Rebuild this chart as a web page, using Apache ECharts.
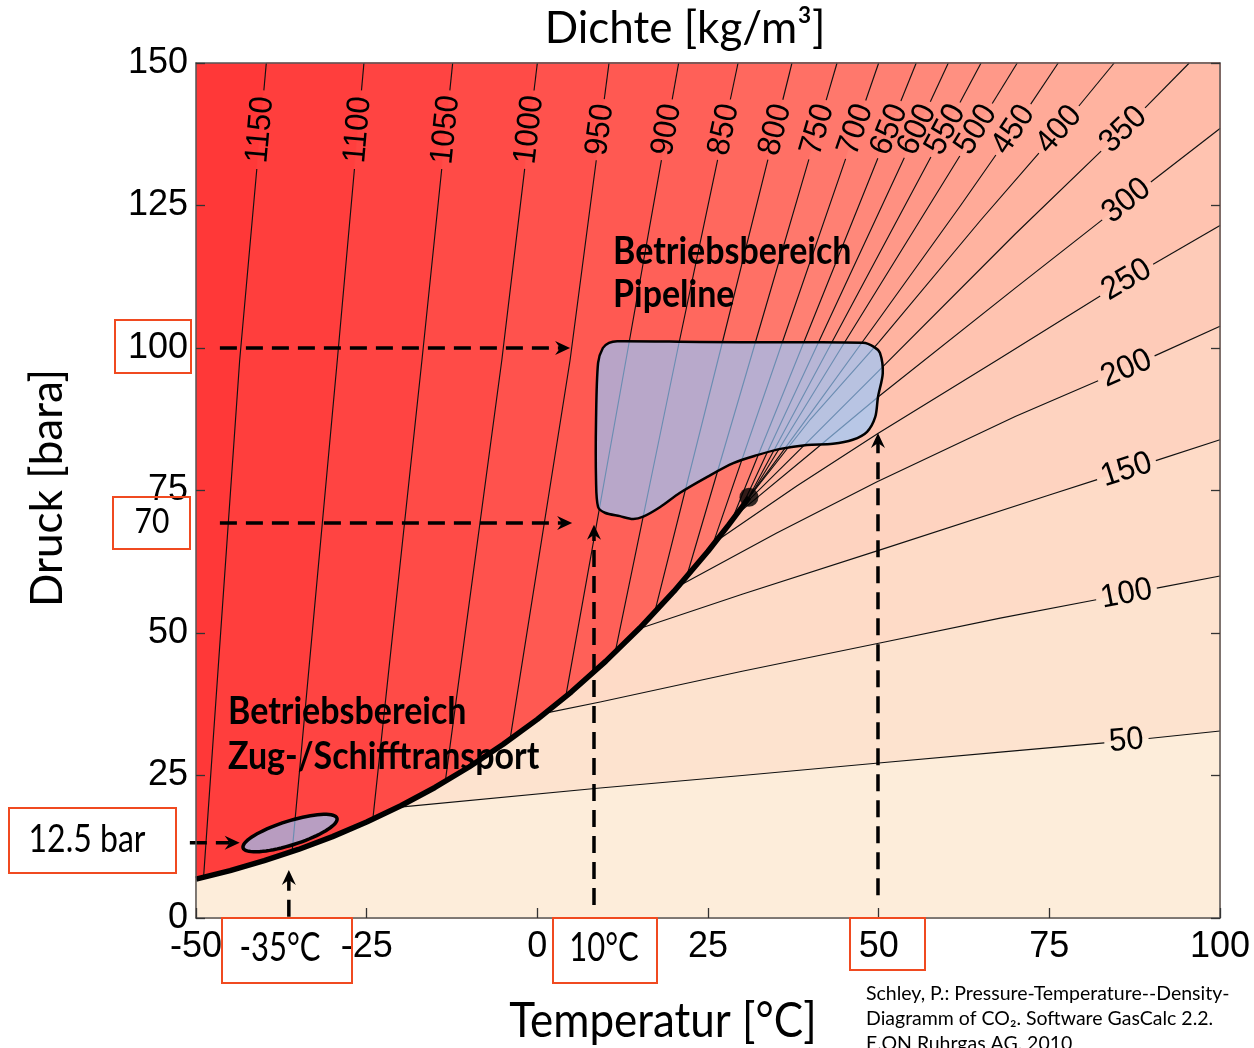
<!DOCTYPE html>
<html>
<head>
<meta charset="utf-8">
<script src="https://cdn.jsdelivr.net/npm/echarts/dist/echarts.min.js"></script>
<style>html,body{margin:0;padding:0;background:#fff}#chart{width:1254px;height:1048px}</style>
</head>
<body>
<div id="chart"></div>
<script>
// ---------------- DATA ----------------
const tempTicks = [-50, -25, 0, 25, 50, 75, 100];
const pressTicks = [0, 25, 50, 75, 100, 125, 150];

// vapour-pressure (saturation) curve of CO2, T [°C] / p [bar]
const satT = [-50, -45, -40, -35, -30, -25, -20, -15, -10, -5, 0, 5, 10, 15, 20, 25, 28, 30, 31];
const satP = [6.82, 8.32, 10.05, 12.02, 14.28, 16.83, 19.70, 22.90, 26.49, 30.47, 34.85, 39.69, 45.02, 50.87, 57.29, 64.34, 68.93, 72.14, 73.8];
const critical = [31, 73.8];

// isochores (density lines) kg/m3
const densities = [1150, 1100, 1050, 1000, 950, 900, 850, 800, 750, 700, 650, 600, 550, 500, 450, 400, 350, 300, 250, 200, 150, 100, 50];
const isoT = [
  [-48.9, -43.6, -39.7],
  [-35.9, -29.3, -25.4],
  [-24.1, -16.9, -12.4],
  [-13.5, -5.2, 0.0],
  [-4.0, 4.8, 10.5],
  [4.2, 13.3, 20.7],
  [11.4, 20.6, 29.4],
  [17.2, 26.9, 37.3],
  [21.8, 31.7, 43.9],
  [25.8, 35.6, 50.0],
  [28.3, 38.7, 55.5],
  [29.95, 40.8, 60.2],
  [30.6, 42.7, 65.0],
  [30.95, 44.5, 70.3],
  [31.0, 40, 50, 62, 69.7, 76.3],
  [30.8, 40, 50, 65, 77.3, 84.5],
  [30.2, 40, 50, 70, 86.1, 95.5],
  [29.0, 40, 50, 70, 86.5, 100],
  [25.6, 38, 50, 67.5, 85.8, 100],
  [20.8, 35, 49.7, 70, 86.5, 100],
  [15.0, 30, 50, 75, 86.1, 100],
  [1.0, 9.2, 30, 50, 67.8, 86.1, 100],
  [-20.5, 9.2, 30, 50, 67.8, 86.5, 100]
];
const isoP = [
  [7.0, 97.9, 150],
  [11.9, 97.9, 150],
  [17.3, 97.9, 150],
  [23.8, 97.9, 150],
  [31.3, 97.9, 150],
  [39.1, 100, 150],
  [46.6, 100, 150],
  [53.7, 100, 150],
  [59.6, 100, 150],
  [65.9, 100, 150],
  [69.2, 100, 150],
  [72.1, 100, 150],
  [73.0, 100, 150],
  [73.6, 100, 150],
  [73.8, 88.5, 105, 125, 138.2, 150],
  [73.5, 87.5, 101, 122.5, 139.5, 150],
  [72.4, 84, 96, 120, 138.6, 150],
  [70.6, 81.5, 91.5, 110.5, 126, 138.5],
  [65.6, 75.8, 85.1, 98, 111.6, 121.5],
  [58.3, 67.5, 76.5, 88, 96.5, 103.8],
  [50.8, 56.8, 64.5, 74.2, 78.5, 83.9],
  [35.9, 37.9, 43.3, 48.2, 52.6, 56.8, 60.0],
  [19.4, 22.8, 25.0, 27.2, 29.1, 31.1, 32.8]
];
// where each line carries its label: on a pressure level (top labels) or a temperature (right labels)
const labelByPressure = [true, true, true, true, true, true, true, true, true, true, true, true, true, true, true, true, true, false, false, false, false, false, false];
const labelValue = [138.3, 138.3, 138.3, 138.3, 138.3, 138.3, 138.3, 138.3, 138.3, 138.3, 138.3, 138.3, 138.3, 138.3, 138.3, 138.3, 138.3, 86.3, 86.3, 86.3, 86.3, 86.3, 86.3];

// operating area "Pipeline" (outline)
const pipeT = [10.5, 11.7, 23.8, 36.0, 47.7, 49.3, 50.2, 50.6, 49.9, 49.5, 48.3, 46.2, 43.3, 39.5, 35.6, 32.2, 28.7, 24.9, 20.9, 18.0, 15.5, 14.0, 12.1, 9.9, 8.9, 8.6, 8.6, 8.9, 9.6];
const pipeP = [100.9, 101.2, 101.05, 101.0, 100.9, 100.2, 99.1, 95.6, 91.4, 87.9, 85.3, 83.9, 83.2, 83.0, 82.3, 81.2, 79.8, 77.4, 74.6, 72.1, 70.4, 70.0, 70.5, 71.1, 72.1, 76.8, 87.4, 97.4, 100.0];

// operating area "Zug-/Schifftransport" (ellipse: ends of the long axis)
const transportEnds = [[-43.1, 12.3], [-29.35, 17.5]];

// dashed arrows: from -> to  (T, p)
const arrowFrom = [[-46.5, 100], [-46.5, 69.3], [-50.9, 13.2], [-36.4, 0.2], [8.3, 2.3], [49.9, 4.0]];
const arrowTo   = [[4.8, 100],   [5.1, 69.3],   [-43.6, 13.2], [-36.4, 8.4], [8.3, 69.0], [49.9, 85.1]];

// ---------------- STYLE ----------------
const topFill = 'rgb(255,56,56)';
const bandFill = [
  'rgb(255,62,61)', 'rgb(255,68,66)', 'rgb(255,75,71)', 'rgb(255,82,77)', 'rgb(255,89,82)',
  'rgb(255,96,88)', 'rgb(255,104,94)', 'rgb(255,112,101)', 'rgb(255,120,108)', 'rgb(255,128,115)',
  'rgb(255,136,122)', 'rgb(255,144,129)', 'rgb(255,152,136)', 'rgb(255,161,144)', 'rgb(255,170,152)',
  'rgb(255,179,160)', 'rgb(255,187,168)', 'rgb(255,195,176)', 'rgb(254,203,184)', 'rgb(254,211,192)',
  'rgb(254,219,199)', 'rgb(253,227,207)', 'rgb(253,237,218)'
];
const areaFill = 'rgba(150,200,255,0.68)';
const LABEL_FS = 31;
const LABEL_FONT = LABEL_FS + 'px "Liberation Sans", Arial, sans-serif';

// ---------------- helpers ----------------
function bandItem(params, api) {
  const i = params.dataIndex;
  const T = isoT[i], P = isoP[i];
  const pts = T.map((t, k) => api.coord([t, P[k]]));
  const lastT = T[T.length - 1], lastP = P[P.length - 1];
  if (lastP >= 150 && lastT < 100) pts.push(api.coord([100, 150]));
  pts.push(api.coord([100, 0]));
  pts.push(api.coord([-50, 0]));
  for (let j = 0; j < satT.length; j++) {
    if (satT[j] < T[0]) pts.push(api.coord([satT[j], satP[j]]));
  }
  return { type: 'polygon', shape: { points: pts }, style: { fill: bandFill[i], stroke: bandFill[i], lineWidth: 0.6 } };
}

function slicePath(pts, cum, s0, s1) {
  const out = [];
  if (s1 <= s0) return out;
  const at = (s) => {
    for (let k = 0; k < pts.length - 1; k++) {
      if (s <= cum[k + 1] || k === pts.length - 2) {
        const len = cum[k + 1] - cum[k];
        const f = len > 0 ? Math.min(1, Math.max(0, (s - cum[k]) / len)) : 0;
        return [pts[k][0] + f * (pts[k + 1][0] - pts[k][0]), pts[k][1] + f * (pts[k + 1][1] - pts[k][1])];
      }
    }
    return pts[pts.length - 1];
  };
  out.push(at(s0));
  for (let k = 0; k < pts.length; k++) if (cum[k] > s0 && cum[k] < s1) out.push(pts[k]);
  out.push(at(s1));
  return out;
}

function isoItem(params, api) {
  const i = params.dataIndex;
  const T = isoT[i], P = isoP[i];
  const pts = T.map((t, k) => api.coord([t, P[k]]));
  const cum = [0];
  for (let k = 1; k < pts.length; k++) cum.push(cum[k - 1] + Math.hypot(pts[k][0] - pts[k - 1][0], pts[k][1] - pts[k - 1][1]));
  const src = labelByPressure[i] ? P : T;
  const v = labelValue[i];
  let lp = null, s = 0, ang = 0;
  for (let k = 0; k < pts.length - 1; k++) {
    const a = src[k], b = src[k + 1];
    if ((a - v) * (b - v) <= 0 && a !== b) {
      const f = (v - a) / (b - a);
      lp = [pts[k][0] + f * (pts[k + 1][0] - pts[k][0]), pts[k][1] + f * (pts[k + 1][1] - pts[k][1])];
      s = cum[k] + f * (cum[k + 1] - cum[k]);
      ang = Math.atan2(-(pts[k + 1][1] - pts[k][1]), pts[k + 1][0] - pts[k][0]);
      break;
    }
  }
  const lineStyle = { stroke: '#111', lineWidth: 1.15, fill: null };
  const children = [];
  if (!lp) {
    children.push({ type: 'polyline', shape: { points: pts }, style: lineStyle });
  } else {
    const text = String(densities[i]);
    const half = text.length * 0.556 * LABEL_FS / 2 + 5;
    const total = cum[cum.length - 1];
    const a1 = slicePath(pts, cum, 0, s - half);
    const a2 = slicePath(pts, cum, s + half, total);
    if (a1.length) children.push({ type: 'polyline', shape: { points: a1 }, style: lineStyle });
    if (a2.length) children.push({ type: 'polyline', shape: { points: a2 }, style: lineStyle });
    children.push({
      type: 'text', x: lp[0], y: lp[1], rotation: ang, scaleY: 1.05,
      style: { text: text, font: LABEL_FONT, fill: '#000', align: 'center', verticalAlign: 'middle', textAlign: 'center', textVerticalAlign: 'middle' }
    });
  }
  return { type: 'group', children: children };
}

function pipeItem(params, api) {
  const pts = pipeT.map((t, k) => api.coord([t, pipeP[k]]));
  return { type: 'polygon', shape: { points: pts, smooth: 0.3 }, style: { fill: areaFill, stroke: '#000', lineWidth: 2.5 } };
}

function ellipseItem(params, api) {
  const a = api.coord(transportEnds[0]), b = api.coord(transportEnds[1]);
  const cx = (a[0] + b[0]) / 2, cy = (a[1] + b[1]) / 2;
  const rx = Math.hypot(b[0] - a[0], b[1] - a[1]) / 2, ry = 12;
  const ang = Math.atan2(b[1] - a[1], b[0] - a[0]);
  const pts = [];
  for (let k = 0; k < 72; k++) {
    const t = k / 72 * Math.PI * 2;
    const ex = rx * Math.cos(t), ey = ry * Math.sin(t);
    pts.push([cx + ex * Math.cos(ang) - ey * Math.sin(ang), cy + ex * Math.sin(ang) + ey * Math.cos(ang)]);
  }
  return { type: 'polygon', shape: { points: pts }, style: { fill: areaFill, stroke: '#000', lineWidth: 3.5 } };
}

function arrowItem(params, api) {
  const i = params.dataIndex;
  const a = api.coord(arrowFrom[i]), b = api.coord(arrowTo[i]);
  const dx = b[0] - a[0], dy = b[1] - a[1];
  const len = Math.hypot(dx, dy);
  const ux = dx / len, uy = dy / len, nx = -uy, ny = ux;
  const head = 15, hw = 7, notch = 5;
  const back = [b[0] - ux * (head - notch), b[1] - uy * (head - notch)];
  return {
    type: 'group',
    children: [
      { type: 'polyline', shape: { points: [a, back] }, style: { stroke: '#000', lineWidth: 3.5, lineDash: [17, 9], fill: null } },
      { type: 'polygon', shape: { points: [b, [b[0] - ux * head + nx * hw, b[1] - uy * head + ny * hw], back, [b[0] - ux * head - nx * hw, b[1] - uy * head - ny * hw]] }, style: { fill: '#000' } }
    ]
  };
}

// ---------------- OPTION ----------------
const chart = echarts.init(document.getElementById('chart'), null, { renderer: 'canvas' });
const tickFont = '"Liberation Sans", Arial, sans-serif';
const redBox = { fill: null, stroke: '#F04A20', lineWidth: 2 };
function txt(x, y, text, font, align, extra) {
  return Object.assign({
    type: 'text', x: x, y: y, z: 100,
    style: { text: text, font: font, fill: '#000', align: align, verticalAlign: 'middle', textAlign: align, textVerticalAlign: 'middle' }
  }, extra || {});
}

const option = {
  animation: false,
  grid: { left: 196, right: 34, top: 63, bottom: 130, show: true, backgroundColor: topFill, borderWidth: 0 },
  xAxis: [
    {
      type: 'value', min: tempTicks[0], max: tempTicks[tempTicks.length - 1], interval: 25, position: 'bottom', z: 10,
      axisLine: { show: true, onZero: false, lineStyle: { color: '#555', width: 1.5 } },
      axisTick: { show: true, inside: true, length: 10, lineStyle: { color: '#333', width: 1.3 } },
      axisLabel: { fontSize: 36, color: '#000', fontFamily: tickFont, margin: 11, formatter: (v) => String(v) },
      splitLine: { show: false }
    },
    {
      type: 'value', min: tempTicks[0], max: tempTicks[tempTicks.length - 1], interval: 25, position: 'top', z: 10,
      axisLine: { show: true, onZero: false, lineStyle: { color: '#555', width: 1.5 } },
      axisTick: { show: false }, axisLabel: { show: false }, splitLine: { show: false }
    }
  ],
  yAxis: [
    {
      type: 'value', min: pressTicks[0], max: pressTicks[pressTicks.length - 1], interval: 25, position: 'left', z: 10,
      axisLine: { show: true, onZero: false, lineStyle: { color: '#555', width: 1.5 } },
      axisTick: { show: true, inside: true, length: 9, lineStyle: { color: '#333', width: 1.3 } },
      axisLabel: { fontSize: 36, color: '#000', fontFamily: tickFont, margin: 8 },
      splitLine: { show: false }
    },
    {
      type: 'value', min: pressTicks[0], max: pressTicks[pressTicks.length - 1], interval: 25, position: 'right', z: 10,
      axisLine: { show: true, onZero: false, lineStyle: { color: '#555', width: 1.5 } },
      axisTick: { show: true, inside: true, length: 9, lineStyle: { color: '#333', width: 1.3 } },
      axisLabel: { show: false }, splitLine: { show: false }
    }
  ],
  series: [
    { type: 'custom', name: 'bands', z: 1, silent: true, renderItem: bandItem, data: densities.map((d, i) => [isoT[i][0], isoP[i][0]]) },
    { type: 'custom', name: 'isochores', z: 2, silent: true, renderItem: isoItem, data: densities.map((d, i) => [isoT[i][0], isoP[i][0]]) },
    {
      type: 'line', name: 'Dampfdruckkurve', z: 3, silent: true, showSymbol: false, symbol: 'none',
      lineStyle: { color: '#000', width: 5.5 }, data: satT.map((t, k) => [t, satP[k]])
    },
    { type: 'scatter', name: 'kritischer Punkt', z: 3, silent: true, symbolSize: 19, itemStyle: { color: '#000' }, data: [critical] },
    { type: 'custom', name: 'Pipeline', z: 4, silent: true, renderItem: pipeItem, data: [[pipeT[0], pipeP[0]]] },
    { type: 'custom', name: 'Transport', z: 5, silent: true, renderItem: ellipseItem, data: [transportEnds[0]] },
    { type: 'custom', name: 'arrows', z: 6, silent: true, renderItem: arrowItem, data: arrowTo }
  ],
  graphic: [
    txt(685, 29, 'Dichte [kg/m³]', '44px Lato', 'center'),
    txt(663, 1021, 'Temperatur [°C]', '44px Lato', 'center', { scaleY: 1.1 }),
    txt(48, 488, 'Druck [bara]', '44px Lato', 'center', { rotation: Math.PI / 2 }),
    txt(613, 252, 'Betriebsbereich', 'bold 34px Lato', 'left', { scaleY: 1.12 }),
    txt(613, 295, 'Pipeline', 'bold 34px Lato', 'left', { scaleY: 1.12 }),
    txt(228, 712, 'Betriebsbereich', 'bold 34px Lato', 'left', { scaleY: 1.12 }),
    txt(228, 757, 'Zug-/Schifftransport', 'bold 34px Lato', 'left', { scaleY: 1.12 }),
    txt(152, 522, '70', '30px Lato', 'center', { scaleY: 1.15 }),
    txt(87, 840, '12.5 bar', '32px Lato', 'center', { scaleY: 1.2 }),
    txt(280, 948, '-35°C', '31px Lato', 'center', { scaleY: 1.3 }),
    txt(604, 948, '10°C', '31px Lato', 'center', { scaleY: 1.3 }),
    txt(866, 994, 'Schley, P.: Pressure-Temperature--Density-', '19.5px Lato', 'left'),
    txt(866, 1019, 'Diagramm of CO₂. Software GasCalc 2.2.', '19.5px Lato', 'left'),
    txt(866, 1044, 'E.ON Ruhrgas AG, 2010', '19.5px Lato', 'left'),
    { type: 'rect', z: 100, shape: { x: 115, y: 320, width: 76, height: 53 }, style: redBox },
    { type: 'rect', z: 100, shape: { x: 113, y: 497, width: 77, height: 52 }, style: redBox },
    { type: 'rect', z: 100, shape: { x: 9, y: 808, width: 167, height: 65 }, style: redBox },
    { type: 'rect', z: 100, shape: { x: 222, y: 918, width: 130, height: 65 }, style: redBox },
    { type: 'rect', z: 100, shape: { x: 553, y: 918, width: 104, height: 65 }, style: redBox },
    { type: 'rect', z: 100, shape: { x: 850, y: 918, width: 75, height: 52 }, style: redBox }
  ]
};
chart.setOption(option);
</script>
</body>
</html>
